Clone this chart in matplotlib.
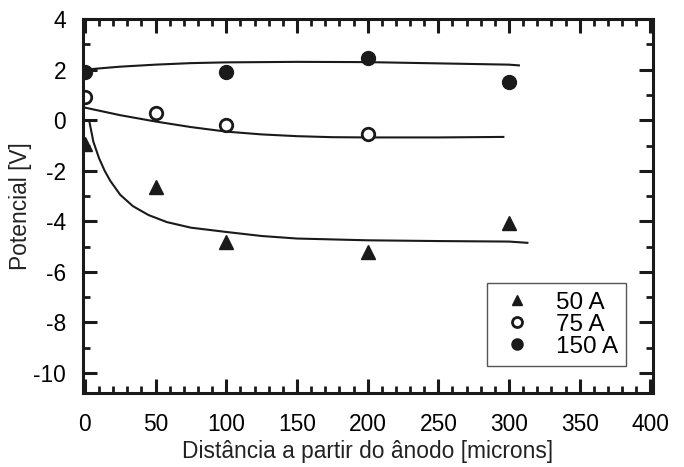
import numpy as np
import matplotlib.pyplot as plt
from matplotlib.ticker import MultipleLocator

plt.rcParams['font.family'] = ['Liberation Sans', 'DejaVu Sans']
plt.rcParams['font.size'] = 16.4
plt.rcParams['axes.unicode_minus'] = False

# pontos medidos
x50 = [0, 50, 100, 200, 300]
y50 = [-0.93, -2.65, -4.8, -5.2, -4.05]
x75 = [0, 50, 100, 200]
y75 = [0.93, 0.3, -0.2, -0.54]
x150 = [0, 100, 200, 300]
y150 = [1.92, 1.9, 2.47, 1.5]

# curvas de ajuste
x50c = [3, 6, 10, 14, 18, 25, 34, 45, 58, 75, 100, 125, 150, 200, 250, 300, 313]
y50c = [0.0, -0.85, -1.5, -2.0, -2.4, -2.95, -3.4, -3.75, -4.03, -4.25, -4.42, -4.58, -4.68, -4.75, -4.78, -4.8, -4.85]
x75c = [0, 25, 50, 75, 100, 125, 150, 175, 200, 250, 296]
y75c = [0.5, 0.2, -0.05, -0.27, -0.45, -0.56, -0.63, -0.67, -0.68, -0.68, -0.66]
x150c = [0, 10, 25, 50, 75, 100, 150, 200, 250, 300, 307]
y150c = [2.0, 2.05, 2.12, 2.2, 2.26, 2.29, 2.31, 2.3, 2.25, 2.2, 2.17]

cor = '#1a1a1a'

fig = plt.figure(figsize=(6.84, 4.67), dpi=100)
ax = fig.add_axes([0.121, 0.158, 0.834, 0.801])

ax.plot(x50c, y50c, c=cor, lw=1.5)
ax.plot(x75c, y75c, c=cor, lw=1.5)
ax.plot(x150c, y150c, c=cor, lw=1.5)

ax.plot(x50, y50, '^', c=cor, ms=9.5, ls='none', label='50 A')
ax.plot(x75, y75, 'o', mfc='white', mec=cor, mew=2, ms=9, ls='none', label='75 A')
ax.plot(x150, y150, 'o', c=cor, ms=10, ls='none', label='150 A')

ax.set_xlim(-1.5, 402)
ax.set_ylim(-10.8, 4)

ax.xaxis.set_major_locator(MultipleLocator(50))
ax.xaxis.set_minor_locator(MultipleLocator(10))
ax.yaxis.set_major_locator(MultipleLocator(2))
ax.yaxis.set_minor_locator(MultipleLocator(1))

ax.tick_params(which='both', direction='in', top=True, right=True, color=cor)
ax.tick_params(which='major', length=10, width=2.2, pad=12)
ax.tick_params(axis='x', which='major', pad=14)
ax.tick_params(which='minor', length=5, width=2)

for s in ax.spines.values():
    s.set_linewidth(2.2)
    s.set_color(cor)

ax.set_xlabel('Distância a partir do ânodo [microns]', color='#222222', labelpad=3)
ax.set_ylabel('Potencial [V]', color='#222222', labelpad=1)

leg = ax.legend(loc='lower right', bbox_to_anchor=(0.953, 0.072), borderaxespad=0,
                fancybox=False, framealpha=1, edgecolor='#555555', fontsize=17.5,
                labelspacing=0.0, handletextpad=0.7, handlelength=1.8,
                borderpad=0.35, markerscale=0.8)
leg.get_frame().set_linewidth(1)

plt.savefig('out.png', dpi=100)
